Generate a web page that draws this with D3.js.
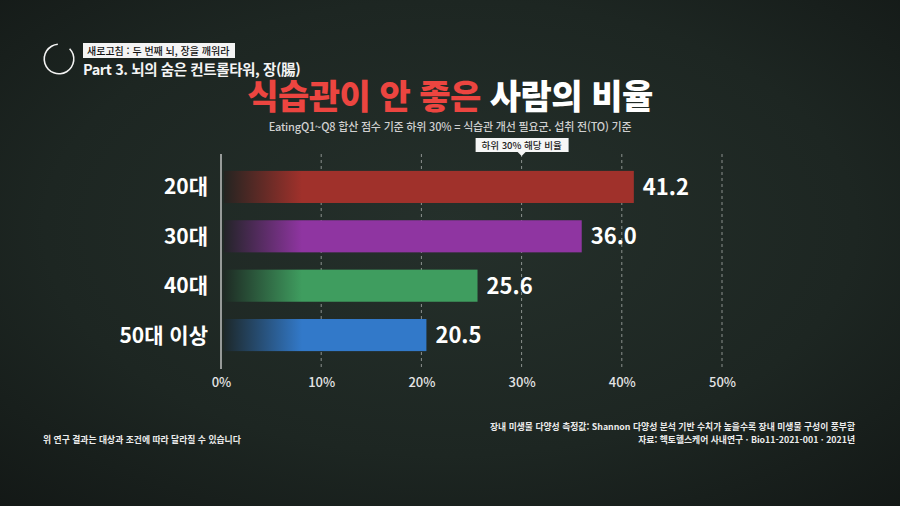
<!DOCTYPE html>
<html lang="ko">
<head>
<meta charset="utf-8">
<script src="https://cdn.jsdelivr.net/npm/d3@7"></script>
<style>
  html, body { margin: 0; padding: 0; background: #1b2320; }
  svg { display: block; font-family: "Noto Sans CJK KR", "Noto Sans", sans-serif; }
</style>
</head>
<body>
<div id="chart"></div>
<script>
// chart values
const categories = ['20대', '30대', '40대', '50대 이상'];
const rates = [41.2, 36.0, 25.6, 20.5];
const barColors = ['#a0312b', '#8f35a1', '#3f9d5f', '#3279c9'];
const ticks = [0, 10, 20, 30, 40, 50];

const width = 900, height = 506;
const svg = d3.select('#chart').append('svg')
  .attr('width', width)
  .attr('height', height);

const defs = svg.append('defs');

// dark board background with a soft vignette
const bg = defs.append('radialGradient').attr('id', 'bg')
  .attr('cx', '50%').attr('cy', '45%').attr('r', '75%');
bg.append('stop').attr('offset', '0%').attr('stop-color', '#25302b');
bg.append('stop').attr('offset', '60%').attr('stop-color', '#1d2622');
bg.append('stop').attr('offset', '100%').attr('stop-color', '#131816');
svg.append('rect').attr('width', width).attr('height', height).attr('fill', 'url(#bg)');

// header: ring icon, tag box and part title
const arc = d3.arc().innerRadius(14).outerRadius(15.6)
  .startAngle(0.8).endAngle(Math.PI * 2 - 0.08);
svg.append('path').attr('d', arc()).attr('transform', 'translate(59,59)').attr('fill', '#f2f2f2');

svg.append('rect').attr('x', 83).attr('y', 43).attr('width', 152).attr('height', 15).attr('fill', '#f4f4f4');
svg.append('text').attr('x', 87).attr('y', 54.5)
  .attr('font-size', 10).attr('font-weight', 500).attr('fill', '#111')
  .text('새로고침 : 두 번째 뇌, 장을 깨워라');
svg.append('text').attr('x', 83).attr('y', 75)
  .attr('font-size', 14.5).attr('font-weight', 700).attr('fill', '#f4f4f4')
  .attr('letter-spacing', -0.4)
  .text('Part 3. 뇌의 숨은 컨트롤타워, 장(腸)');

// main title
const title = svg.append('text').attr('x', 450).attr('y', 109)
  .attr('text-anchor', 'middle').attr('font-size', 34).attr('font-weight', 900)
  .attr('letter-spacing', -0.5);
title.append('tspan').attr('fill', '#ec4540').text('식습관이 안 좋은 ');
title.append('tspan').attr('fill', '#ffffff').text('사람의 비율');

svg.append('text').attr('x', 450).attr('y', 131)
  .attr('text-anchor', 'middle').attr('font-size', 11).attr('font-weight', 500)
  .attr('letter-spacing', -0.2).attr('fill', '#d0d0d0')
  .text('EatingQ1~Q8 합산 점수 기준 하위 30% = 식습관 개선 필요군. 섭취 전(TO) 기준');

// scales
const x = d3.scaleLinear().domain([0, 50]).range([221, 722]);
const y = d3.scaleBand().domain(categories).range([162, 360]).paddingInner(0.35).paddingOuter(0.18);

// gridlines
svg.append('g').selectAll('line')
  .data(ticks.filter(t => t > 0))
  .join('line')
  .attr('x1', d => x(d)).attr('x2', d => x(d))
  .attr('y1', 154).attr('y2', 369)
  .attr('stroke', '#b9bdbb').attr('stroke-opacity', 0.7)
  .attr('stroke-width', 1).attr('stroke-dasharray', '3,3');

// zero axis line
svg.append('line')
  .attr('x1', x(0)).attr('x2', x(0)).attr('y1', 154).attr('y2', 369)
  .attr('stroke', '#e8e8e8').attr('stroke-width', 1.2);

// x axis labels via d3 axis
const xAxis = svg.append('g').attr('transform', 'translate(0,372)')
  .call(d3.axisBottom(x).tickValues(ticks).tickFormat(d => d + '%').tickSize(0).tickPadding(6));
xAxis.select('.domain').remove();
xAxis.selectAll('text')
  .attr('fill', '#e4e4e4').attr('font-size', 13).attr('font-weight', 500)
  .attr('font-family', '"Noto Sans CJK KR", sans-serif');

// bar gradients: fade in from the left edge
const barStart = x(0) + 3;
barColors.forEach((c, i) => {
  const g = defs.append('linearGradient').attr('id', 'bar' + i)
    .attr('gradientUnits', 'userSpaceOnUse')
    .attr('x1', barStart).attr('x2', barStart + 78).attr('y1', 0).attr('y2', 0);
  g.append('stop').attr('offset', '0%').attr('stop-color', d3.interpolateRgb('#1c2320', c)(0.06));
  g.append('stop').attr('offset', '100%').attr('stop-color', c);
});

// bars
svg.append('g').selectAll('rect')
  .data(rates)
  .join('rect')
  .attr('x', barStart)
  .attr('y', (d, i) => y(categories[i]))
  .attr('width', d => x(d) - barStart)
  .attr('height', y.bandwidth())
  .attr('fill', (d, i) => `url(#bar${i})`);

// value labels
svg.append('g').selectAll('text')
  .data(rates)
  .join('text')
  .attr('x', d => x(d) + 9)
  .attr('y', (d, i) => y(categories[i]) + y.bandwidth() / 2)
  .attr('dy', '0.36em')
  .attr('font-size', 22).attr('font-weight', 700).attr('fill', '#ffffff')
  .text(d => d.toFixed(1));

// category labels
svg.append('g').selectAll('text')
  .data(categories)
  .join('text')
  .attr('x', 208)
  .attr('y', d => y(d) + y.bandwidth() / 2)
  .attr('dy', '0.36em')
  .attr('text-anchor', 'end')
  .attr('font-size', 21).attr('font-weight', 700).attr('fill', '#ffffff')
  .text(d => d);

// callout above the 30% line
const cx = x(30);
svg.append('rect').attr('x', cx - 46).attr('y', 138).attr('width', 93).attr('height', 14)
  .attr('fill', '#f6f6f6');
svg.append('path')
  .attr('d', `M${cx - 4},152 L${cx + 4},152 L${cx},156 Z`).attr('fill', '#f6f6f6');
svg.append('text').attr('x', cx).attr('y', 148.5)
  .attr('text-anchor', 'middle').attr('font-size', 9.5).attr('font-weight', 500).attr('fill', '#222')
  .text('하위 30% 해당 비율');

// footnotes
const notes = svg.append('g').attr('font-size', 8.8).attr('font-weight', 700).attr('fill', '#ececec');
notes.append('text').attr('x', 855).attr('y', 430).attr('text-anchor', 'end')
  .text('장내 미생물 다양성 측정값: Shannon 다양성 분석 기반 수치가 높을수록 장내 미생물 구성이 풍부함');
notes.append('text').attr('x', 855).attr('y', 443).attr('text-anchor', 'end')
  .text('자료: 헥토헬스케어 사내연구 · Bio11-2021-001 · 2021년');
notes.append('text').attr('x', 43).attr('y', 443)
  .text('위 연구 결과는 대상과 조건에 따라 달라질 수 있습니다');
</script>
</body>
</html>
